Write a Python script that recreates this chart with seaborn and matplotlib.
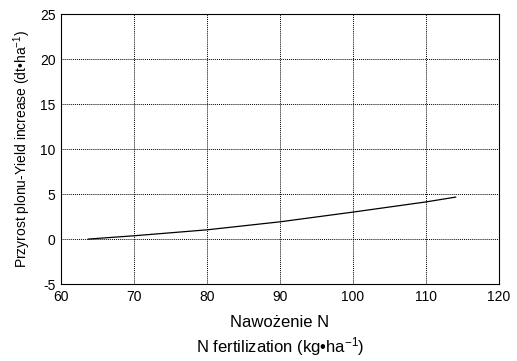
import matplotlib
matplotlib.use("Agg")
import matplotlib.pyplot as plt
import seaborn as sns
import pandas as pd

# Data
n_fert = [63.7, 70, 80, 90, 100, 110, 114.1]
yield_inc = [0.0, 0.37, 1.03, 1.92, 3.0, 4.13, 4.67]
x_ticks = [60, 70, 80, 90, 100, 110, 120]
y_ticks = [-5, 0, 5, 10, 15, 20, 25]

sns.set_theme(style="white")
plt.rcParams['font.family'] = ['Liberation Sans', 'DejaVu Sans']
plt.rcParams['mathtext.fontset'] = 'custom'
plt.rcParams['mathtext.rm'] = 'Liberation Sans'
plt.rcParams['mathtext.it'] = 'Liberation Sans'
plt.rcParams['axes.unicode_minus'] = False

df = pd.DataFrame({"x": n_fert, "y": yield_inc})

fig = plt.figure(figsize=(5.17, 3.61), dpi=100)
ax = fig.add_axes([0.118, 0.213, 0.847, 0.748])
sns.lineplot(data=df, x="x", y="y", ax=ax, color="black", linewidth=0.9)

ax.set_xlim(60, 120)
ax.set_ylim(-5, 25)
ax.set_xticks(x_ticks)
ax.set_yticks(y_ticks)
ax.set_xticklabels([str(t) for t in x_ticks])
ax.set_yticklabels([str(t) for t in y_ticks])
ax.grid(True, color="black", linestyle=(0, (1, 1)), linewidth=0.7)
for s in ax.spines.values():
    s.set_color("black")
    s.set_linewidth(0.8)
ax.tick_params(direction="in", length=3, width=0.8, colors="black", labelsize=10, pad=4)
ax.set_xlabel("Nawożenie N\nN fertilization (kg•ha$^{-1}$)", fontsize=12, color="black",
              linespacing=1.3)
ax.xaxis.set_label_coords(0.5, -0.115)
ax.set_ylabel("Przyrost plonu-Yield increase (dt•ha$^{-1}$)", fontsize=10, color="black")
ax.yaxis.set_label_coords(-0.064, 0.5)

fig.savefig("out.png", dpi=100)
